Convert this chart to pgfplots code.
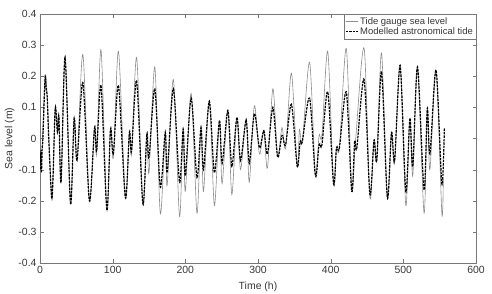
\documentclass[border=0pt]{standalone}
\usepackage{fontspec}
\setmainfont{Liberation Sans}
\usepackage{pgfplots}
\pgfplotsset{compat=1.18}

\definecolor{gaugegray}{RGB}{140,140,140}
\definecolor{axisgray}{RGB}{120,120,120}
\definecolor{txtgray}{RGB}{55,55,55}

\begin{document}
\begin{tikzpicture}
\begin{axis}[
    scale only axis,
    width=436bp,
    height=249bp,
    at={(0,0)}, anchor=south west,
    xmin=0, xmax=600,
    ymin=-0.4, ymax=0.4,
    xtick={0,100,...,600},
    ytick={-0.4,-0.3,...,0.4},
    yticklabels={-0.4,-0.3,-0.2,-0.1,0,0.1,0.2,0.3,0.4},
    /pgf/number format/assume math mode=true,
    tick align=inside,
    major tick length=3.5bp,
    axis line style={axisgray},
    tick style={axisgray},
    ticklabel style={font=\fontsize{10.5}{12}\selectfont, text=txtgray},
    xlabel={Time (h)},
    ylabel={Sea level (m)},
    label style={font=\fontsize{10.5}{12}\selectfont, text=txtgray},
    xlabel style={yshift=-1bp},
    ylabel style={yshift=-3bp},
    legend style={
        at={(1,1)}, anchor=north east,
        draw=axisgray, fill=white,
        font=\fontsize{9.5}{11}\selectfont,
        text=txtgray,
        inner sep=1pt, row sep=-2pt,
        cells={anchor=west},
    },
    legend image code/.code={\draw[#1] (0cm,0cm) -- (0.42cm,0cm);},
]
\addplot[gaugegray, line width=0.6pt, smooth, tension=0.5] coordinates {
(0,-0.09)(1.5,-0.11)(3,-0.02)(7,0.20)(10,0.13)(16,-0.19)(18,-0.12)(21,0.10)
(24,0.03)(26,0.07)(29,-0.14)(34.5,0.265)(42,-0.21)(47,0.07)(51,-0.07)
(59,0.27)(68,-0.20)(75,0.04)(78,-0.05)(84,0.285)(92,-0.23)(97,0.03)(101,-0.06)
(108,0.28)(117.5,-0.19)(123,0.02)(126,-0.05)(133,0.26)(141.6,-0.21)(147,0.015)
(150,-0.11)(158,0.23)(165.5,-0.24)(172.4,0.016)(175,-0.15)(183.5,0.19)(192,-0.25)
(197,0.035)(200,-0.17)(208,0.145)(216,-0.24)(221.6,0.04)(225,-0.17)(233,0.12)
(240,-0.215)(247,0.058)(250.6,-0.145)(258.5,0.09)(264,-0.18)(271,0.068)(276,-0.10)
(283.7,0.06)(288,-0.14)(295,0.105)(302,-0.05)(308,0.025)(313,-0.095)(320.5,0.16)
(327,-0.055)(333,0.035)(338,-0.03)(346,0.21)(354,-0.09)(357,0.03)(361,-0.01)
(371,0.245)(379,-0.115)(384,0.01)(388,0.01)(396,0.28)(404,-0.145)(408,-0.03)
(412,-0.03)(421.5,0.29)(429,-0.16)(434.5,0.0)(446,0.29)(454,-0.19)(459.6,-0.005)
(463.5,-0.07)(470,0.275)(478,-0.19)(483.7,0.02)(488,-0.08)(495.6,0.235)(503.4,-0.215)
(509,0.065)(513,-0.12)(519.5,0.23)(528.5,-0.24)(533,0.097)(536.6,-0.10)(545,0.22)
(553,-0.24)(555,-0.13)
};
\addlegendentry{Tide gauge sea level}
\addplot[black, line width=1.2pt, dash pattern=on 2.5pt off 1pt, smooth, tension=0.5] coordinates {
(0,-0.10)(1,-0.05)(2,-0.11)(3,-0.03)(4,0.0)(7,0.195)(8.5,0.16)(10,0.13)(12,0.0)
(16,-0.19)(18,-0.12)(21,0.10)(24,0.02)(26,0.07)(29,-0.14)(34.5,0.26)(42,-0.21)
(47,0.065)(51,-0.07)(59,0.18)(68,-0.20)(75,0.035)(78,-0.04)(84,0.17)(92,-0.23)
(97,0.03)(101,-0.05)(108,0.17)(117.5,-0.19)(123,0.02)(126,-0.04)(133,0.185)
(141.6,-0.21)(147,0.015)(150,-0.06)(158,0.16)(165.5,-0.155)(172.4,0.02)(175,-0.11)
(183.5,0.16)(192,-0.14)(197,0.03)(200,-0.12)(208,0.13)(216,-0.125)(221.6,0.035)
(225,-0.10)(233,0.12)(240,-0.11)(247,0.058)(250.6,-0.08)(258.5,0.09)(264,-0.09)
(271,0.068)(276,-0.07)(283.7,0.06)(288,-0.08)(295,0.08)(302,-0.03)(308,0.025)
(313,-0.05)(320.5,0.10)(327,-0.06)(333,0.01)(338,-0.02)(346,0.11)(354,-0.09)
(358,-0.01)(361,-0.01)(371,0.13)(379,-0.12)(384,-0.02)(388,-0.02)(396,0.15)
(404,-0.145)(408,-0.03)(412,-0.03)(421.5,0.15)(429,-0.17)(433,-0.01)(436,-0.03)
(446,0.19)(454,-0.18)(459.6,-0.005)(463.5,-0.07)(470,0.215)(478,-0.19)(483.7,0.02)
(488,-0.07)(495.6,0.235)(503.4,-0.17)(509,0.065)(513,-0.09)(519.5,0.23)(528.5,-0.165)
(533,0.097)(536.6,-0.05)(545,0.22)(553,-0.145)(556.5,0.035)
};
\addlegendentry{Modelled astronomical tide}
\end{axis}
\pgfresetboundingbox
\path (-40bp,-31bp) rectangle (452bp,263bp);
\end{tikzpicture}
\end{document}
